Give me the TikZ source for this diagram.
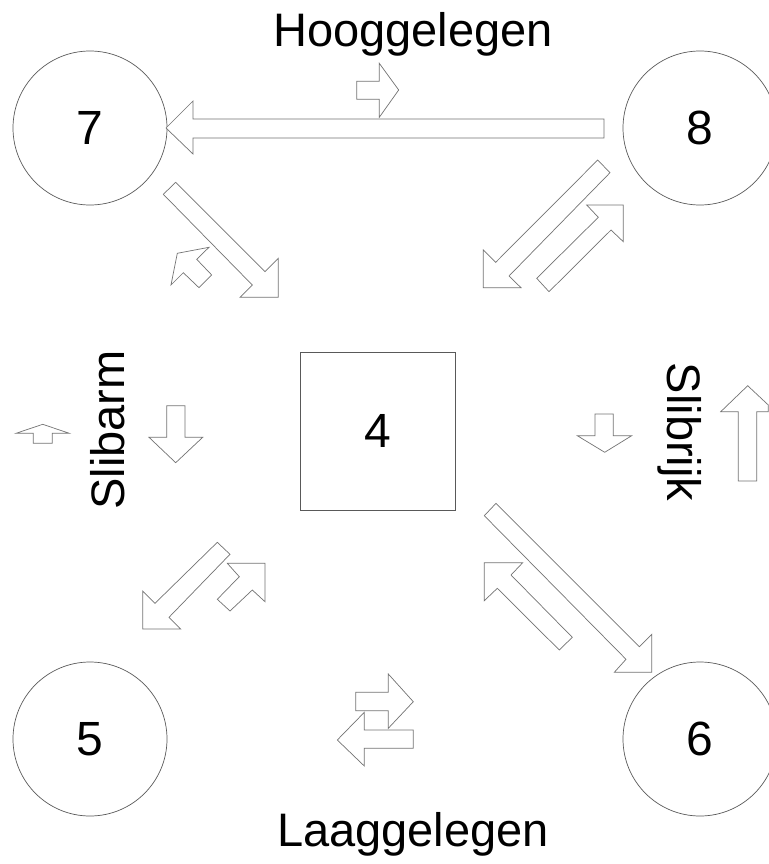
\documentclass[tikz,border=0pt]{standalone}
\usepackage{fontspec}
\setmainfont{Liberation Sans}
\begin{document}
\begin{tikzpicture}[x=1pt,y=-1pt,
  circ/.style={circle,draw=black!65,line width=0.7pt,minimum size=154pt,inner sep=0pt,font=\fontsize{48}{56}\selectfont},
  sq/.style={rectangle,draw=black!65,line width=0.7pt,minimum width=155pt,minimum height=158pt,inner sep=0pt,font=\fontsize{48}{56}\selectfont},
  lbl/.style={font=\fontsize{47}{56}\selectfont,inner sep=0pt,anchor=base},
  flow/.style={draw=black!55,fill=white,line width=0.7pt,line join=miter}]
\useasboundingbox (0,0) rectangle (768,864);
% nodes
\node[circ] (c7) at (90,128) {7};
\node[circ] (c8) at (700,128) {8};
\node[circ] (c5) at (90,739) {5};
\node[circ] (c6) at (700,739) {6};
\node[sq] (n4) at (377.5,431) {4};
% labels
\node[lbl] (thigh) at (413,47) {Hooggelegen};
\node[lbl] (tlow) at (413,846) {Laaggelegen};
\node[lbl,rotate=90] (tarm) at (124,430) {Slibarm};
\node[lbl,rotate=-90] (trijk) at (667,432) {Slibrijk};
% top: small right arrow, big left arrow
\draw[flow] (356.7,81.3) -- (379.3,81.3) -- (379.3,63.3) -- (398.7,90) -- (379.3,117.3) -- (379.3,99.3) -- (356.7,99.3) -- cycle;
\draw[flow] (604,119) -- (193,119) -- (193,101) -- (166,128) -- (193,154) -- (193,138) -- (604,138) -- cycle;
% 7 -> 4 and small return
\draw[flow] (175.7,182.3) -- (265,271.7) -- (278.3,258.3) -- (278.3,297.3) -- (240,297.3) -- (252.3,285) -- (163.3,194.3) -- cycle;
\draw[flow] (209,247.3) -- (177.3,253.3) -- (171,285) -- (183.3,272.7) -- (199,287.7) -- (211.7,275) -- (196.7,259.3) -- cycle;
% 8 <-> 4
\draw[flow] (597.7,160) -- (610,172.7) -- (509,276) -- (521,287.7) -- (483.3,287.7) -- (483.3,250) -- (495.7,262.3) -- cycle;
\draw[flow] (623.3,205) -- (586.7,205) -- (598.3,217.3) -- (536.7,278.3) -- (549,291.7) -- (611,230) -- (623.3,241.7) -- cycle;
% left side arrows
\draw[flow] (33.3,443.3) -- (33.3,433.3) -- (16,433.3) -- (42.7,424.3) -- (69.3,433.3) -- (52.3,433.3) -- (52.3,443.3) -- cycle;
\draw[flow] (166.7,405.7) -- (185,405.7) -- (185,437.3) -- (202.7,437.3) -- (175.7,462.7) -- (149,437.3) -- (166.7,437.3) -- cycle;
% right side arrows
\draw[flow] (595,414) -- (613.3,414) -- (613.3,435.7) -- (631.7,435.7) -- (604.7,452.3) -- (577.3,435.7) -- (595,435.7) -- cycle;
\draw[flow] (738.3,481) -- (738.3,411.7) -- (720.7,411.7) -- (747.7,385.7) -- (768.3,405) -- (768.3,411.7) -- (756.7,411.7) -- (756.7,481) -- cycle;
% 4 <-> 5
\draw[flow] (217.3,542.3) -- (230,554.3) -- (169,617.3) -- (180.7,629) -- (142.7,629) -- (142.7,591) -- (155,603.3) -- cycle;
\draw[flow] (265,563.3) -- (227.3,563.3) -- (239.3,576.7) -- (217.3,599.3) -- (230,611) -- (252.3,590) -- (265,601.7) -- cycle;
% 4 <-> 6
\draw[flow] (496,503.3) -- (639.3,646.7) -- (651.7,634.3) -- (651.7,672.3) -- (614.3,672.3) -- (626,659.3) -- (484.3,515.7) -- cycle;
\draw[flow] (484.3,562.7) -- (522.7,562.7) -- (511,575) -- (572.3,637.3) -- (559.3,650) -- (497.3,588.3) -- (484.3,600.7) -- cycle;
% bottom exchange arrows
\draw[flow] (355.7,692.3) -- (388.3,692.3) -- (388.3,674) -- (413.3,701.7) -- (388.3,728.3) -- (388.3,710.7) -- (355.7,710.7) -- cycle;
\draw[flow] (337.3,740) -- (364.3,712.3) -- (364.3,730) -- (413.3,730) -- (413.3,748.3) -- (364.3,748.3) -- (364.3,766) -- cycle;
\end{tikzpicture}
\end{document}
